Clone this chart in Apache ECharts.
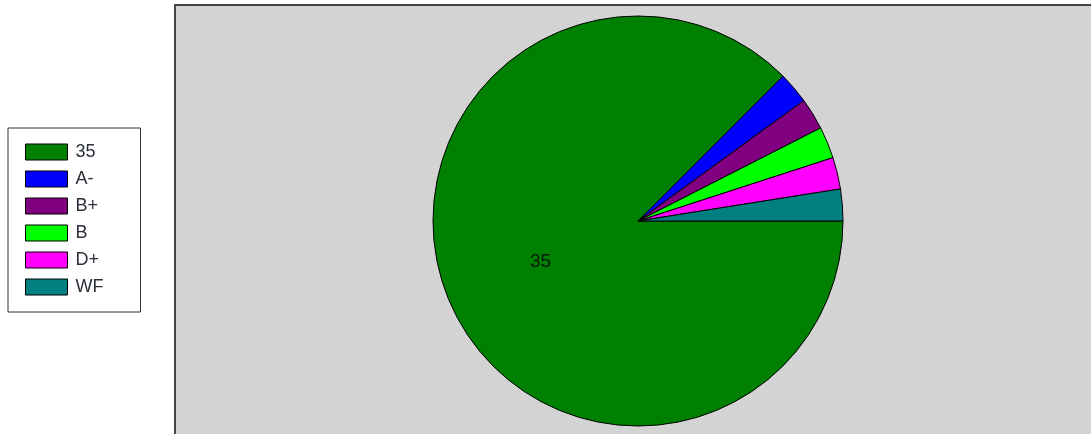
<!DOCTYPE html>
<html>
<head>
<meta charset="utf-8">
<script src="https://cdn.jsdelivr.net/npm/echarts@6/dist/echarts.min.js"></script>
<style>
html,body{margin:0;padding:0;background:#fff;}
#c{width:1091px;height:434px;}
</style>
</head>
<body>
<div id="c"></div>
<script>
var categories = ['35', 'A-', 'B+', 'B', 'D+', 'WF'];
var values = [35, 1, 1, 1, 1, 1];
var colors = ['#008000', '#0000FF', '#800080', '#00FF00', '#FF00FF', '#008080'];

var chart = echarts.init(document.getElementById('c'), null, {renderer: 'canvas'});
var data = categories.map(function (name, i) {
  return {
    name: name,
    value: values[i],
    itemStyle: {color: colors[i]},
    label: {show: i === 0}
  };
});
chart.setOption({
  animation: false,
  backgroundColor: '#ffffff',
  graphic: [{
    type: 'rect',
    z: -10,
    silent: true,
    shape: {x: 175, y: 5, width: 1000, height: 500},
    style: {fill: '#D3D3D3', stroke: '#444444', lineWidth: 2}
  }],
  legend: {
    orient: 'vertical',
    left: 8,
    top: 128,
    padding: [15, 37, 16, 17],
    backgroundColor: '#ffffff',
    borderColor: '#333333',
    borderWidth: 1,
    itemWidth: 42,
    itemHeight: 16,
    itemGap: 9,
    icon: 'rect',
    selectedMode: false,
    itemStyle: {borderColor: '#000000', borderWidth: 1},
    textStyle: {
      fontFamily: 'Liberation Sans, Arial, sans-serif',
      fontSize: 18,
      lineHeight: 16,
      color: '#2a2f3a',
      padding: [0, 0, 0, 3]
    },
    data: categories
  },
  series: [{
    type: 'pie',
    center: [638, 221],
    radius: 205,
    startAngle: 0,
    clockwise: true,
    avoidLabelOverlap: false,
    itemStyle: {borderColor: '#000000', borderWidth: 1},
    label: {
      position: 'inside',
      formatter: '{b}',
      fontFamily: 'Liberation Sans, Arial, sans-serif',
      fontSize: 19,
      color: '#0a1a0a'
    },
    labelLine: {show: false},
    emphasis: {disabled: true},
    data: data
  }]
});
</script>
</body>
</html>
